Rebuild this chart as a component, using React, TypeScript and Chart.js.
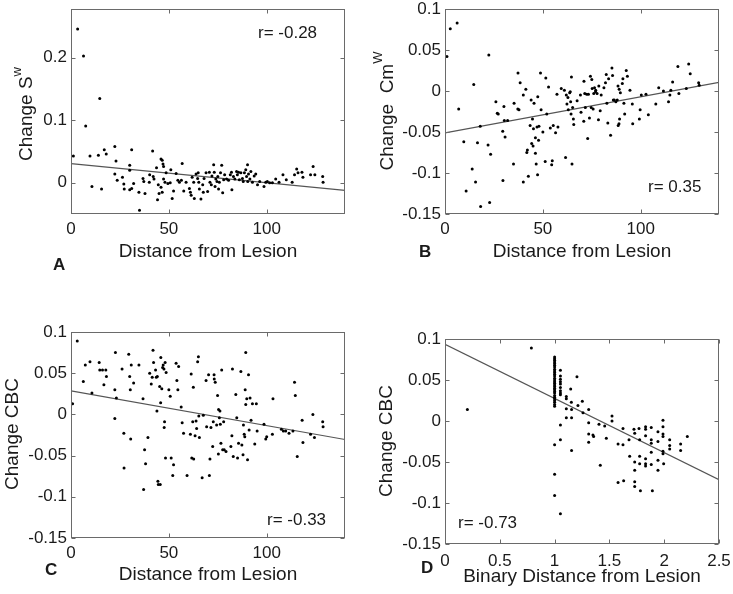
import React, { useEffect, useRef } from "react";
import { Chart, registerables } from "chart.js";
Chart.register(...registerables);

const W = 733;
const H = 594;
const FONT = '"Liberation Sans", Arial, Helvetica, sans-serif';

// ---------- Panel A ----------
const aX = [3.4, 6.4, 7.5, 14.7, 1.2, 9.7, 14, 17, 18, 22.4,
  23, 10.7, 15.6, 22.4, 23.6, 26.3, 27, 27.2, 30, 30,
  31, 30, 31, 32, 34.7, 35, 36.8, 37.2, 37.8, 40,
  41.7, 42, 42.4, 43.7, 44.2, 44.6, 45, 46, 46.6, 47,
  47.3, 46, 46.6, 47.3, 48, 48.6, 49.5, 50.7, 51, 51.7,
  52.4, 53.7, 54.6, 55.4, 56.4, 57.6, 58.8, 56.8, 60.5, 61,
  61.4, 61.9, 62.7, 63, 63.9, 64.7, 65, 65.3, 65.6, 66.4,
  67.3, 67.6, 68, 69, 69.8, 70.7, 71, 71.7, 72, 72.9,
  73.2, 73.6, 74, 74.6, 75, 75.4, 75.8, 76.4, 77, 77.5,
  78, 78.5, 79.5, 80.5, 81.4, 82, 82.2, 83, 83.7, 84.6,
  85, 85.6, 86, 86.8, 87.6, 88, 88.6, 89.3, 89.7, 90.2,
  90.3, 90.7, 91.4, 91.9, 92.7, 93.6, 94.4, 95.3, 96.4, 98.6,
  99.5, 100.3, 101.5, 102.9, 104.6, 106.3, 108.3, 110, 113, 114.2,
  115.3, 116, 118, 118.5, 122.4, 123.7, 124.6, 128.6, 128.8, 40.2];
const aY = [0.246, 0.203, 0.091, 0.135, 0.043, 0.043, 0.044, 0.053, 0.046, 0.058,
  0.035, -0.006, -0.010, 0.014, 0.004, 0.009, -0.002, -0.010, 0.020, 0.028,
  0.053, -0.011, -0.009, -0.001, -0.015, -0.044, 0.007, 0.002, -0.017, 0.001,
  0.051, 0.010, 0.006, 0.024, -0.027, -0.003, -0.017, 0.038, 0.036, 0.030,
  0.026, -0.007, -0.015, 0.006, 0.001, 0.016, -0.001, 0.000, 0.021, -0.025,
  -0.013, 0.015, 0.004, 0.001, 0.004, -0.013, 0.001, 0.031, -0.009, -0.015,
  -0.020, 0.009, 0.001, -0.025, 0.014, 0.007, 0.016, 0.001, -0.010, -0.026,
  -0.003, -0.015, 0.007, 0.016, -0.014, 0.017, 0.001, -0.003, 0.011, 0.029,
  0.017, -0.006, 0.006, 0.002, 0.010, -0.010, 0.001, 0.016, 0.028, -0.016,
  0.005, 0.013, 0.006, 0.004, 0.013, 0.017, -0.011, 0.010, 0.006, 0.018,
  0.013, 0.017, 0.005, 0.016, 0.007, 0.002, 0.016, 0.021, 0.010, 0.029,
  0.002, 0.014, 0.006, 0.018, 0.001, 0.011, 0.014, -0.003, 0.002, -0.006,
  0.001, 0.002, 0.000, 0.000, 0.006, 0.001, 0.013, 0.005, 0.001, 0.013,
  0.022, 0.016, 0.017, 0.009, 0.013, 0.026, 0.013, 0.010, 0.001, 0.013];
const aLineX = [0, 140];
const aLineY = [0.0305, -0.0123];

// ---------- Panel B ----------
const bX = [1.0, 2.7, 6.2, 7, 9.6, 10.8, 13.9, 14.7, 15.6, 16.6,
  18, 18.2, 22, 22.4, 22.8, 23.3, 26, 26.7, 27.2, 29.5,
  29.6, 30.1, 30.3, 30.7, 32, 35, 35.3, 37.2, 37.3, 37.8,
  38.4, 40, 40, 41.3, 41.8, 42.1, 42.6, 43.5, 44, 44.3,
  44.7, 45, 45.2, 45.5, 46.2, 46.2, 46.6, 47, 47.3, 47.4,
  47.8, 48, 48.8, 49.1, 50, 51.2, 51.5, 52, 52.9, 53.8,
  54.5, 54.8, 55.3, 56.5, 57.2, 57.7, 59.4, 61, 61.6, 62,
  62.3, 62.8, 63, 63.7, 64, 64.2, 64.4, 64.6, 64.9, 65.2,
  65.6, 65.8, 67.5, 69.2, 69.5, 70.9, 71, 71.4, 71.7, 72.4,
  72.9, 73.3, 73.8, 74.3, 74.7, 75, 75.2, 75.7, 76, 76.4,
  76.9, 77, 77.7, 78.4, 78.6, 79.3, 79.8, 81.2, 82, 82.4,
  82.7, 83.2, 83.6, 84.6, 85.3, 85.6, 86, 86.5, 87.3, 88,
  88.4, 88.5, 88.9, 89, 89.2, 89.6, 90.6, 90.9, 91.4, 91.8,
  92.6, 93.2, 94.5, 95.7, 95.9, 99.3, 99.7, 100.3, 102.7, 103.9,
  107.7, 109.2, 111.6, 114.2, 114.9, 115.4, 116.3, 119, 119.5, 123.3,
  124.5, 125.3, 129.6, 129.9];
const bY = [0.042, 0.076, 0.083, -0.022, -0.062, -0.122, -0.095, 0.008, -0.111, -0.063,
  -0.043, -0.141, -0.066, 0.044, -0.136, -0.077, -0.013, -0.027, -0.028, -0.049,
  -0.109, -0.019, -0.036, -0.056, -0.036, -0.089, -0.015, -0.022, 0.022, -0.023,
  0.010, -0.005, -0.111, 0.002, -0.075, -0.072, -0.104, -0.042, -0.011, -0.064,
  -0.034, -0.067, -0.046, -0.015, -0.057, -0.076, -0.089, -0.044, -0.102, -0.007,
  -0.060, -0.043, 0.022, -0.023, -0.050, -0.086, 0.016, -0.028, 0.005, -0.045,
  -0.090, -0.085, -0.042, -0.051, -0.004, -0.044, 0.003, 0.001, -0.081, -0.005,
  -0.016, -0.008, -0.023, -0.002, -0.001, -0.013, -0.028, 0.017, -0.089, -0.020,
  -0.034, -0.041, -0.012, -0.005, -0.026, -0.037, 0.012, -0.003, -0.020, -0.004,
  -0.058, -0.004, -0.033, 0.018, -0.020, 0.014, 0.003, -0.022, -0.003, 0.004,
  -0.001, 0.001, -0.003, -0.035, 0.006, -0.024, -0.005, 0.004, 0.010, 0.020,
  -0.015, -0.039, 0.015, -0.054, 0.028, 0.019, -0.011, -0.011, -0.013, -0.011,
  0.006, -0.042, -0.040, 0.002, -0.034, -0.002, 0.009, 0.015, -0.015, -0.028,
  0.025, 0.018, 0.001, -0.016, -0.040, -0.034, -0.023, -0.005, -0.004, -0.029,
  -0.016, 0.004, 0.000, -0.013, -0.005, 0.001, 0.011, 0.030, -0.003, 0.003,
  0.033, 0.021, 0.010, 0.007];
const bLineX = [0, 140];
const bLineY = [-0.051, 0.0106];

// ---------- Panel C ----------
const cX = [0.8, 3.2, 6.3, 7.3, 9.7, 10.7, 14.4, 14.7, 16.1, 16.8,
  17.8, 18.1, 22.4, 22.4, 22.7, 23.2, 26.1, 27, 27.1, 29.5,
  30, 30.5, 30.8, 32, 30.3, 34.7, 36.8, 37.1, 37.6, 38.1,
  39.3, 40.2, 41, 41.5, 41.9, 42.2, 43.2, 43.6, 43.9, 44.1,
  44.4, 44.6, 45.3, 45.6, 45.9, 45.8, 46.4, 46.8, 47.1, 47.5,
  47.6, 47.8, 48.1, 48.6, 48.3, 50, 50.7, 51.2, 52, 52.4,
  53.7, 54.1, 54.6, 55, 56.3, 56.8, 57.5, 59.3, 61, 61.4,
  61.7, 62.2, 62.5, 62.7, 63.4, 63.9, 64.2, 64.7, 65.1, 65.3,
  65.6, 67, 67.6, 69, 69.3, 70.3, 70.7, 71, 71.5, 72.4,
  72.7, 73.1, 73.2, 73.7, 74.4, 74.9, 75.3, 75.4, 75.8, 76.1,
  76.3, 76.6, 77, 77.5, 78, 78.3, 79.2, 81.7, 82.2, 82.5,
  82.9, 84.2, 84.7, 85.1, 85.6, 86.8, 87.3, 87.9, 88.1, 88.5,
  88.8, 89, 89.3, 89.3, 89.8, 90.2, 90.7, 91, 91.5, 92,
  92.7, 93.9, 94.7, 95.1, 98.6, 99.5, 100, 102.9, 103.2, 107.5,
  108.5, 109.7, 111.4, 113.4, 114.2, 114.6, 115.6, 118.1, 118.5, 122.4,
  123.6, 124.4, 128.6, 128.8];
const cY = [0.013, 0.089, 0.040, 0.060, 0.064, 0.026, 0.063, 0.054, 0.054, 0.036,
  0.054, 0.046, 0.030, -0.005, 0.075, 0.020, 0.055, -0.023, -0.065, 0.073,
  0.046, -0.030, 0.060, 0.038, 0.030, 0.060, 0.019, -0.091, -0.043, -0.060,
  -0.028, 0.050, 0.037, 0.045, 0.078, 0.063, 0.054, 0.045, 0.004, 0.046,
  -0.081, -0.085, 0.034, -0.085, 0.069, 0.014, 0.031, 0.057, 0.060, 0.055,
  -0.016, -0.009, 0.063, 0.051, -0.053, 0.030, 0.022, -0.053, -0.074, -0.061,
  0.062, 0.041, 0.030, 0.058, 0.009, -0.010, -0.023, -0.074, -0.024, 0.049,
  -0.053, -0.009, 0.033, -0.054, -0.026, -0.008, -0.017, 0.064, 0.070, -0.002,
  -0.028, -0.077, -0.001, 0.041, -0.015, 0.048, -0.074, -0.054, -0.016, -0.039,
  -0.009, 0.048, 0.043, 0.039, -0.013, 0.023, -0.048, 0.006, -0.004, 0.004,
  -0.012, -0.035, 0.054, -0.043, -0.009, -0.043, -0.045, -0.039, -0.026, 0.055,
  -0.051, 0.024, -0.004, -0.053, -0.035, 0.052, -0.037, -0.049, -0.013, -0.024,
  -0.027, 0.030, 0.075, 0.012, 0.019, -0.055, 0.048, -0.019, 0.020, -0.007,
  0.013, -0.036, 0.013, -0.020, -0.012, -0.030, -0.027, -0.024, 0.019, -0.018,
  -0.020, -0.020, -0.023, -0.020, 0.039, 0.023, -0.051, -0.007, -0.034, -0.024,
  0.000, -0.028, -0.009, -0.015];
const cLineX = [0, 140];
const cLineY = [0.0285, -0.0305];

// ---------- Panel D ----------
const dX = [0.204, 0.788,
  1, 1, 1, 1, 1, 1, 1, 1, 1, 1,
  1, 1, 1, 1, 1, 1, 1, 1, 1, 1,
  1, 1, 1, 1, 1, 1, 1, 1, 1,
  1, 1, 1,
  1.053, 1.053, 1.053, 1.053, 1.053, 1.053, 1.053, 1.053, 1.053, 1.053, 1.053, 1.053,
  1.107, 1.107, 1.107, 1.107, 1.147, 1.153, 1.155, 1.155, 1.155, 1.204,
  1.213, 1.253, 1.259, 1.311, 1.311, 1.311, 1.311, 1.350, 1.356, 1.405,
  1.417, 1.457, 1.472, 1.524, 1.524, 1.579, 1.579, 1.624, 1.624, 1.630,
  1.679, 1.685, 1.724, 1.731, 1.731, 1.731, 1.731, 1.731, 1.770, 1.776,
  1.776, 1.776, 1.783, 1.830, 1.830, 1.830, 1.830, 1.830, 1.830, 1.882,
  1.882, 1.882, 1.882, 1.882, 1.892, 1.943, 1.943, 1.943, 1.943, 1.989,
  1.989, 1.989, 1.989, 1.989, 1.989, 1.995, 2.050, 2.050, 2.050, 2.150,
  2.150, 2.211];
const dY = [0.014, 0.089,
  0.078, 0.076, 0.074, 0.072, 0.070, 0.068, 0.066, 0.063, 0.061, 0.059,
  0.057, 0.055, 0.052, 0.050, 0.048, 0.046, 0.044, 0.042, 0.040, 0.038,
  0.036, 0.034, 0.031, 0.029, 0.027, 0.025, 0.023, 0.020, 0.018,
  -0.029, -0.065, -0.091,
  0.062, 0.055, 0.051, 0.048, 0.045, 0.041, 0.037, 0.034, 0.032, -0.005, -0.023, -0.113,
  0.030, 0.027, 0.015, 0.004, 0.039, 0.023, 0.014, 0.004, -0.036, 0.054,
  0.019, 0.024, 0.010, 0.014, -0.002, -0.016, -0.026, -0.017, -0.019, -0.004,
  -0.054, -0.006, -0.021, 0.006, 0.000, -0.028, -0.075, -0.009, -0.029, -0.073,
  -0.023, -0.043, -0.010, -0.015, -0.050, -0.060, -0.074, -0.080, -0.009, -0.023,
  -0.043, -0.052, -0.085, -0.007, -0.010, -0.018, -0.046, -0.052, -0.055, -0.008,
  -0.023, -0.027, -0.038, -0.053, -0.085, -0.013, -0.025, -0.048, -0.060, 0.001,
  -0.007, -0.016, -0.019, -0.037, -0.040, -0.052, -0.023, -0.030, -0.034, -0.028,
  -0.036, -0.019];
const dLineX = [0, 2.5];
const dLineY = [0.0935, -0.0717];

// ---------- ticks ----------
const distTicks = [0, 50, 100];
const distTickLabels = ["0", "50", "100"];
const binTicks = [0, 0.5, 1, 1.5, 2, 2.5];
const binTickLabels = ["0", "0.5", "1", "1.5", "2", "2.5"];
const aYTicks = [0, 0.1, 0.2];
const aYTickLabels = ["0", "0.1", "0.2"];
const cbcTicks = [-0.15, -0.1, -0.05, 0, 0.05, 0.1];
const cbcTickLabels = ["-0.15", "-0.1", "-0.05", "0", "0.05", "0.1"];

type Panel = {
  xs: number[]; ys: number[]; lx: number[]; ly: number[];
  xMin: number; xMax: number; yMin: number; yMax: number;
  xT: number[]; xL: string[]; yT: number[]; yL: string[];
  L: number; R: number; T: number; B: number; xPad: number;
  deco: any;
};

const panels: Panel[] = [
  {
    xs: aX, ys: aY, lx: aLineX, ly: aLineY, xMin: 0, xMax: 140, yMin: -0.05, yMax: 0.278,
    xT: distTicks, xL: distTickLabels, yT: aYTicks, yL: aYTickLabels,
    L: 71, R: 345, T: 9, B: 214, xPad: 5,
    deco: { xTitle: "Distance from Lesion", xTitleY: 257, yTitle: "Change S", ySup: "w", yX: 32, yCY: 114,
      letter: "A", letterX: 53, letterY: 270, note: "r= -0.28", noteX: 258, noteY: 38 },
  },
  {
    xs: bX, ys: bY, lx: bLineX, ly: bLineY, xMin: 0, xMax: 140, yMin: -0.15, yMax: 0.1,
    xT: distTicks, xL: distTickLabels, yT: cbcTicks, yL: cbcTickLabels,
    L: 445, R: 719, T: 9, B: 214, xPad: 5,
    deco: { xTitle: "Distance from Lesion", xTitleY: 257, yTitle: "Change  Cm", ySup: "W", yX: 393, yCY: 111,
      letter: "B", letterX: 419, letterY: 257, note: "r= 0.35", noteX: 648, noteY: 192 },
  },
  {
    xs: cX, ys: cY, lx: cLineX, ly: cLineY, xMin: 0, xMax: 140, yMin: -0.15, yMax: 0.1,
    xT: distTicks, xL: distTickLabels, yT: cbcTicks, yL: cbcTickLabels,
    L: 71, R: 345, T: 332, B: 538, xPad: 5,
    deco: { xTitle: "Distance from Lesion", xTitleY: 580, yTitle: "Change CBC", ySup: "", yX: 18, yCY: 434,
      letter: "C", letterX: 45, letterY: 575, note: "r= -0.33", noteX: 267, noteY: 525 },
  },
  {
    xs: dX, ys: dY, lx: dLineX, ly: dLineY, xMin: 0, xMax: 2.5, yMin: -0.15, yMax: 0.1,
    xT: binTicks, xL: binTickLabels, yT: cbcTicks, yL: cbcTickLabels,
    L: 445, R: 719, T: 339, B: 544, xPad: 7,
    deco: { xTitle: "Binary Distance from Lesion", xTitleY: 582, yTitle: "Change CBC", ySup: "", yX: 392, yCY: 441,
      letter: "D", letterX: 421, letterY: 573, note: "r= -0.73", noteX: 458, noteY: 528 },
  },
];

const TEXT = "#1a1a1a";
const AXIS = "#6a6a6a";

const decorPlugin = {
  id: "decor",
  afterDraw(chart: any, _args: any, o: any) {
    const ctx = chart.ctx;
    const { left, right, top, bottom } = chart.chartArea;
    ctx.save();
    // box
    ctx.strokeStyle = AXIS;
    ctx.lineWidth = 1;
    const l = Math.round(left) + 0.5, r = Math.round(right) - 0.5;
    const t = Math.round(top) + 0.5, b = Math.round(bottom) - 0.5;
    ctx.strokeRect(l, t, r - l, b - t);
    // inward ticks
    const tl = 4;
    const xs = chart.scales.x, ys = chart.scales.y;
    ctx.beginPath();
    xs.ticks.forEach((tk: any) => {
      const px = Math.round(xs.getPixelForValue(tk.value)) + 0.5;
      ctx.moveTo(px, b); ctx.lineTo(px, b - tl);
      ctx.moveTo(px, t); ctx.lineTo(px, t + tl);
    });
    ys.ticks.forEach((tk: any) => {
      const py = Math.round(ys.getPixelForValue(tk.value)) + 0.5;
      ctx.moveTo(l, py); ctx.lineTo(l + tl, py);
      ctx.moveTo(r, py); ctx.lineTo(r - tl, py);
    });
    ctx.stroke();

    ctx.fillStyle = TEXT;
    // x title
    ctx.font = `19px ${FONT}`;
    ctx.textAlign = "center";
    ctx.textBaseline = "alphabetic";
    ctx.fillText(o.xTitle, (left + right) / 2, o.xTitleY);
    // note
    ctx.font = `17px ${FONT}`;
    ctx.textAlign = "left";
    ctx.fillText(o.note, o.noteX, o.noteY);
    // letter
    ctx.font = `bold 17px ${FONT}`;
    ctx.fillText(o.letter, o.letterX, o.letterY);
    // y title (rotated)
    ctx.save();
    ctx.translate(o.yX, o.yCY);
    ctx.rotate(-Math.PI / 2);
    ctx.font = `19px ${FONT}`;
    const wMain = ctx.measureText(o.yTitle).width;
    ctx.font = `13px ${FONT}`;
    const wSup = o.ySup ? ctx.measureText(o.ySup).width : 0;
    const x0 = -(wMain + wSup) / 2;
    ctx.textAlign = "left";
    ctx.font = `19px ${FONT}`;
    ctx.fillText(o.yTitle, x0, 0);
    if (o.ySup) {
      ctx.font = `13px ${FONT}`;
      ctx.fillText(o.ySup, x0 + wMain, -11);
    }
    ctx.restore();
    ctx.restore();
  },
};

function makeConfig(p: Panel): any {
  const yw = 60, xh = 40;
  return {
    type: "scatter",
    data: {
      datasets: [
        {
          type: "scatter",
          data: p.xs.map((x, i) => ({ x, y: p.ys[i] })),
          pointRadius: 1.5,
          pointBackgroundColor: "#000",
          pointBorderWidth: 0,
          order: 1,
        },
        {
          type: "line",
          data: p.lx.map((x, i) => ({ x, y: p.ly[i] })),
          borderColor: "#555",
          borderWidth: 1.2,
          pointRadius: 0,
          fill: false,
          order: 2,
        },
      ],
    },
    options: {
      responsive: false,
      animation: false,
      events: [],
      layout: { padding: { left: p.L - yw, top: p.T, right: W - p.R, bottom: H - p.B - xh } },
      plugins: { legend: { display: false }, tooltip: { enabled: false }, decor: p.deco },
      scales: {
        x: {
          type: "linear", min: p.xMin, max: p.xMax,
          afterBuildTicks: (s: any) => { s.ticks = p.xT.map((v) => ({ value: v })); },
          afterFit: (s: any) => { s.height = xh; s.paddingLeft = 0; s.paddingRight = 0; s.paddingTop = 0; s.paddingBottom = 0; },
          grid: { display: false, drawTicks: false },
          border: { display: false },
          ticks: { autoSkip: false, maxRotation: 0, padding: p.xPad, color: TEXT,
            font: { family: FONT, size: 17 }, callback: (_v: any, i: number) => p.xL[i] },
        },
        y: {
          type: "linear", min: p.yMin, max: p.yMax,
          afterBuildTicks: (s: any) => { s.ticks = p.yT.map((v) => ({ value: v })); },
          afterFit: (s: any) => { s.width = yw; s.paddingLeft = 0; s.paddingRight = 0; s.paddingTop = 0; s.paddingBottom = 0; },
          grid: { display: false, drawTicks: false },
          border: { display: false },
          ticks: { autoSkip: false, padding: 4, color: TEXT,
            font: { family: FONT, size: 17 }, callback: (_v: any, i: number) => p.yL[i] },
        },
      },
    },
    plugins: [decorPlugin],
  };
}

function PanelChart({ p }: { p: Panel }) {
  const ref = useRef<HTMLCanvasElement | null>(null);
  useEffect(() => {
    if (!ref.current) return;
    const chart = new Chart(ref.current, makeConfig(p));
    return () => chart.destroy();
  }, [p]);
  return (
    <canvas ref={ref} width={W} height={H}
      style={{ position: "absolute", left: 0, top: 0, width: W, height: H }} />
  );
}

export default function App() {
  return (
    <div style={{ position: "absolute", left: 0, top: 0, width: W, height: H, background: "#fff", overflow: "hidden" }}>
      {panels.map((p, i) => <PanelChart key={i} p={p} />)}
    </div>
  );
}
